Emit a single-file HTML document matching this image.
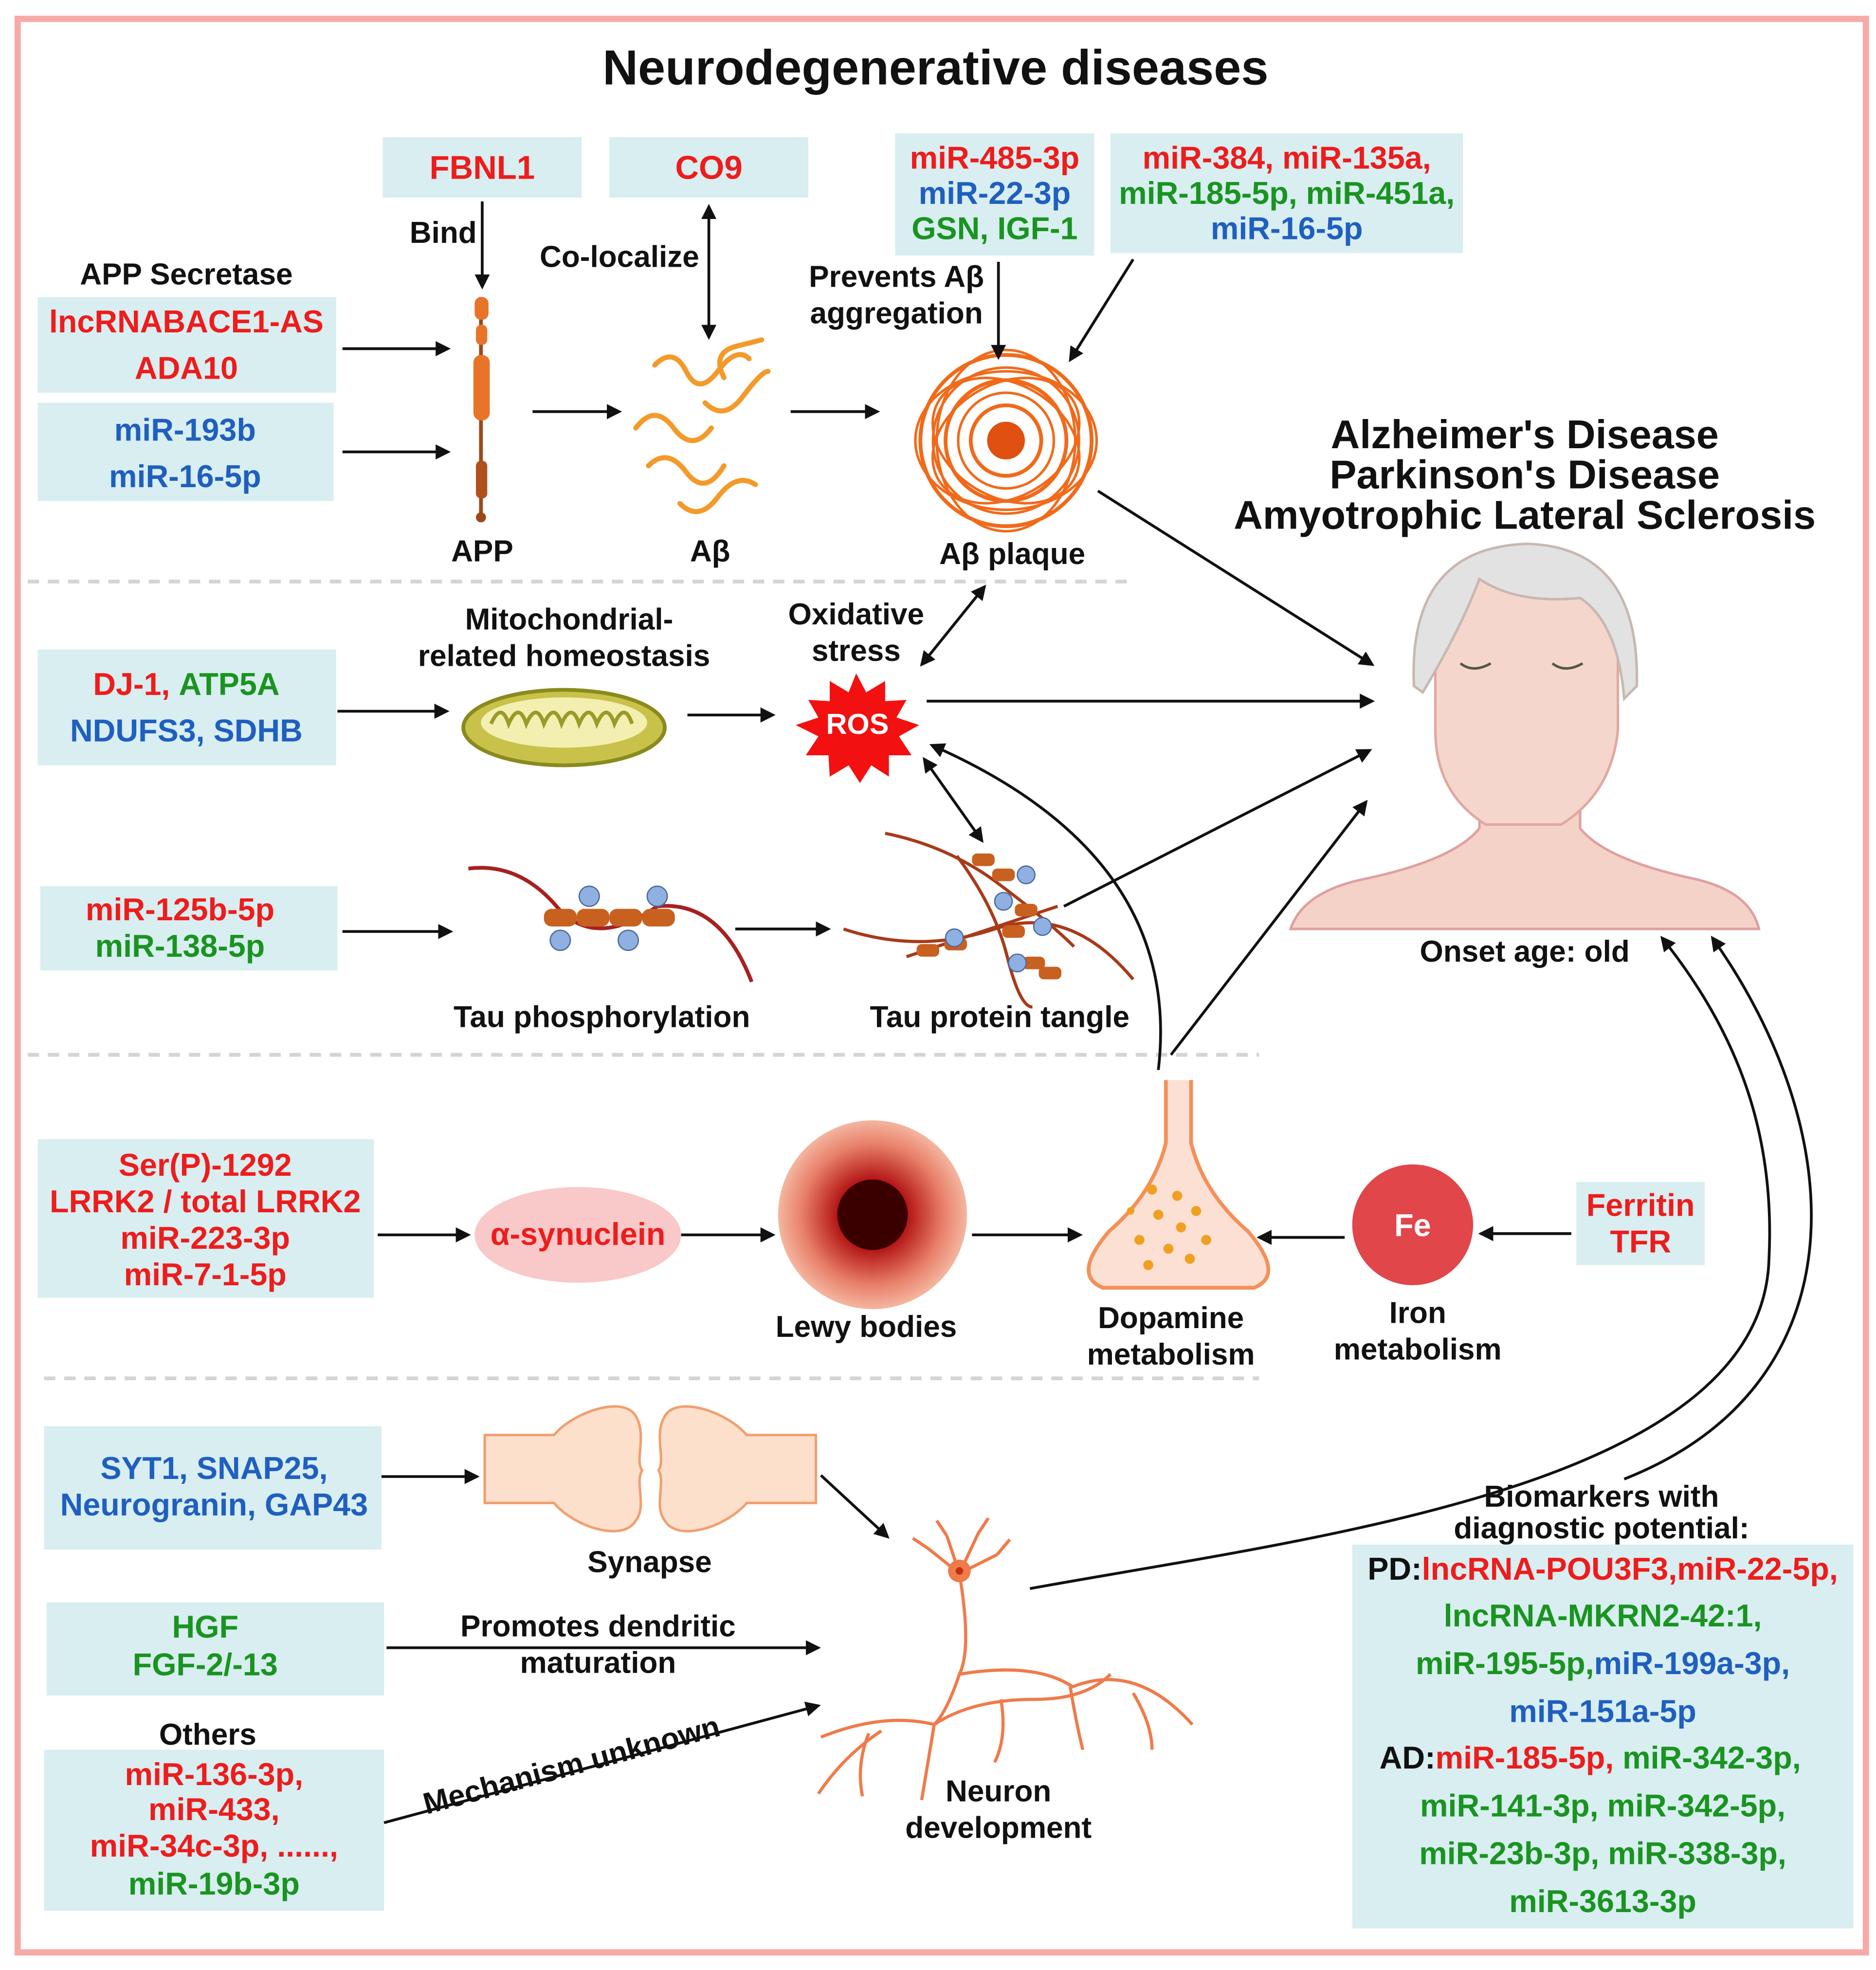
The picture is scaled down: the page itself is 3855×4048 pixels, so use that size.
<!DOCTYPE html>
<html><head><meta charset="utf-8"><style>
html,body{margin:0;padding:0;background:#fff}
svg{display:block}
text{font-family:"Liberation Sans",Arial,sans-serif;font-weight:bold}
.r{fill:#ee1c1c}.b{fill:#1f5fbf}.g{fill:#1a9420}.k{fill:#111}
.bx{fill:#d8eef1}
.ar{stroke:#111;stroke-width:2.2;fill:none;marker-end:url(#ah)}
.ab{stroke:#111;stroke-width:2.2;fill:none;marker-end:url(#ah);marker-start:url(#as)}
.ds{stroke:#d4d4d4;stroke-width:3;stroke-dasharray:9 7}
</style></head><body>
<svg width="3855" height="4048" viewBox="0 0 1490 1565" preserveAspectRatio="none" xmlns="http://www.w3.org/2000/svg">
<defs>
<marker id="ah" markerWidth="12" markerHeight="12" refX="10" refY="6" orient="auto" markerUnits="userSpaceOnUse" viewBox="0 0 12 12"><path d="M0,0 L12,6 L0,12 z" fill="#111"/></marker>
<marker id="as" markerWidth="12" markerHeight="12" refX="2" refY="6" orient="auto" markerUnits="userSpaceOnUse" viewBox="0 0 12 12"><path d="M12,0 L0,6 L12,12 z" fill="#111"/></marker>
<radialGradient id="lw"><stop offset="0" stop-color="#4a0000"/><stop offset="0.35" stop-color="#b01010"/><stop offset="0.75" stop-color="#e8806a"/><stop offset="1" stop-color="#f4b6a0"/></radialGradient>
</defs>
<rect x="14" y="15" width="1468" height="1536" fill="#fff" stroke="#f6aaa8" stroke-width="5"/>
<text x="743" y="67" font-size="39" text-anchor="middle" class="k">Neurodegenerative diseases</text>

<rect class="bx" x="304" y="109" width="158" height="48"/>
<text x="383" y="142" font-size="26" text-anchor="middle" class="r">FBNL1</text>
<rect class="bx" x="484" y="109" width="158" height="48"/>
<text x="563" y="142" font-size="26" text-anchor="middle" class="r">CO9</text>
<rect class="bx" x="711" y="106" width="158" height="97"/>
<text x="790" y="134" font-size="25" text-anchor="middle" class="r">miR-485-3p</text>
<text x="790" y="162" font-size="25" text-anchor="middle" class="b">miR-22-3p</text>
<text x="790" y="190" font-size="25" text-anchor="middle" class="g">GSN, IGF-1</text>
<rect class="bx" x="882" y="106" width="280" height="95"/>
<text x="1022" y="134" font-size="25" text-anchor="middle" class="r">miR-384, miR-135a,</text>
<text x="1022" y="162" font-size="25" text-anchor="middle" class="g">miR-185-5p, miR-451a,</text>
<text x="1022" y="190" font-size="25" text-anchor="middle" class="b">miR-16-5p</text>

<text x="148" y="226" font-size="24" text-anchor="middle" class="k">APP Secretase</text>
<rect class="bx" x="30" y="236" width="237" height="76"/>
<text x="148" y="264" font-size="25" text-anchor="middle" class="r">lncRNABACE1-AS</text>
<text x="148" y="301" font-size="25" text-anchor="middle" class="r">ADA10</text>
<rect class="bx" x="30" y="320" width="235" height="78"/>
<text x="147" y="350" font-size="25" text-anchor="middle" class="b">miR-193b</text>
<text x="147" y="387" font-size="25" text-anchor="middle" class="b">miR-16-5p</text>

<rect class="bx" x="30" y="516" width="237" height="92"/>
<text x="148" y="552" font-size="25" text-anchor="middle"><tspan class="r">DJ-1, </tspan><tspan class="g">ATP5A</tspan></text>
<text x="148" y="589" font-size="25" text-anchor="middle" class="b">NDUFS3, SDHB</text>

<rect class="bx" x="32" y="704" width="236" height="67"/>
<text x="143" y="731" font-size="25" text-anchor="middle" class="r">miR-125b-5p</text>
<text x="143" y="760" font-size="25" text-anchor="middle" class="g">miR-138-5p</text>

<rect class="bx" x="30" y="905" width="267" height="126"/>
<text x="163" y="934" font-size="25" text-anchor="middle" class="r">Ser(P)-1292</text>
<text x="163" y="963" font-size="25" text-anchor="middle" class="r">LRRK2 / total LRRK2</text>
<text x="163" y="992" font-size="25" text-anchor="middle" class="r">miR-223-3p</text>
<text x="163" y="1021" font-size="25" text-anchor="middle" class="r">miR-7-1-5p</text>

<rect class="bx" x="35" y="1133" width="268" height="98"/>
<text x="170" y="1175" font-size="25" text-anchor="middle" class="b">SYT1, SNAP25,</text>
<text x="170" y="1204" font-size="25" text-anchor="middle" class="b">Neurogranin,  GAP43</text>

<rect class="bx" x="37" y="1273" width="268" height="74"/>
<text x="163" y="1301" font-size="25" text-anchor="middle" class="g">HGF</text>
<text x="163" y="1331" font-size="25" text-anchor="middle" class="g">FGF-2/-13</text>

<text x="165" y="1386" font-size="24" text-anchor="middle" class="k">Others</text>
<rect class="bx" x="35" y="1390" width="270" height="128"/>
<text x="170" y="1418" font-size="25" text-anchor="middle" class="r">miR-136-3p,</text>
<text x="170" y="1446" font-size="25" text-anchor="middle" class="r">miR-433,</text>
<text x="170" y="1475" font-size="25" text-anchor="middle" class="r">miR-34c-3p,  ......,</text>
<text x="170" y="1505" font-size="25" text-anchor="middle" class="g">miR-19b-3p</text>

<rect class="bx" x="1252" y="939" width="102" height="66"/>
<text x="1303" y="966" font-size="25" text-anchor="middle" class="r">Ferritin</text>
<text x="1303" y="995" font-size="25" text-anchor="middle" class="r">TFR</text>

<text x="1272" y="1197" font-size="24" text-anchor="middle" class="k">Biomarkers with</text>
<text x="1272" y="1222" font-size="24" text-anchor="middle" class="k">diagnostic potential:</text>
<rect class="bx" x="1074" y="1227" width="398" height="305"/>
<text x="1273" y="1255" font-size="25" text-anchor="middle"><tspan class="k">PD:</tspan><tspan class="r">lncRNA-POU3F3,miR-22-5p,</tspan></text>
<text x="1273" y="1292" font-size="25" text-anchor="middle" class="g">lncRNA-MKRN2-42:1,</text>
<text x="1273" y="1330" font-size="25" text-anchor="middle"><tspan class="g">miR-195-5p,</tspan><tspan class="b">miR-199a-3p,</tspan></text>
<text x="1273" y="1368" font-size="25" text-anchor="middle" class="b">miR-151a-5p</text>
<text x="1263" y="1405" font-size="25" text-anchor="middle"><tspan class="k">AD:</tspan><tspan class="r">miR-185-5p, </tspan><tspan class="g">miR-342-3p,</tspan></text>
<text x="1273" y="1443" font-size="25" text-anchor="middle" class="g">miR-141-3p, miR-342-5p,</text>
<text x="1273" y="1481" font-size="25" text-anchor="middle" class="g">miR-23b-3p, miR-338-3p,</text>
<text x="1273" y="1519" font-size="25" text-anchor="middle" class="g">miR-3613-3p</text>

<line class="ds" x1="22" y1="462" x2="900" y2="462"/>
<line class="ds" x1="22" y1="838" x2="1000" y2="838"/>
<line class="ds" x1="35" y1="1095" x2="1000" y2="1095"/>

<text x="352" y="193" font-size="24" text-anchor="middle" class="k">Bind</text>
<text x="492" y="212" font-size="24" text-anchor="middle" class="k">Co-localize</text>
<text x="712" y="228" font-size="24" text-anchor="middle" class="k">Prevents Aβ</text>
<text x="712" y="257" font-size="24" text-anchor="middle" class="k">aggregation</text>
<text x="383" y="446" font-size="24" text-anchor="middle" class="k">APP</text>
<text x="564" y="446" font-size="24" text-anchor="middle" class="k">Aβ</text>
<text x="804" y="448" font-size="24" text-anchor="middle" class="k">Aβ plaque</text>
<text x="1211" y="356" font-size="32" text-anchor="middle" class="k">Alzheimer's Disease</text>
<text x="1211" y="388" font-size="32" text-anchor="middle" class="k">Parkinson's Disease</text>
<text x="1211" y="420" font-size="32" text-anchor="middle" class="k">Amyotrophic Lateral Sclerosis</text>
<text x="452" y="500" font-size="24" text-anchor="middle" class="k">Mitochondrial-</text>
<text x="448" y="529" font-size="24" text-anchor="middle" class="k">related homeostasis</text>
<text x="680" y="496" font-size="24" text-anchor="middle" class="k">Oxidative</text>
<text x="680" y="525" font-size="24" text-anchor="middle" class="k">stress</text>
<text x="478" y="816" font-size="24" text-anchor="middle" class="k">Tau phosphorylation</text>
<text x="794" y="816" font-size="24" text-anchor="middle" class="k">Tau protein tangle</text>
<text x="1211" y="764" font-size="24" text-anchor="middle" class="k">Onset age: old</text>
<text x="688" y="1062" font-size="24" text-anchor="middle" class="k">Lewy bodies</text>
<text x="930" y="1055" font-size="24" text-anchor="middle" class="k">Dopamine</text>
<text x="930" y="1084" font-size="24" text-anchor="middle" class="k">metabolism</text>
<text x="1126" y="1051" font-size="24" text-anchor="middle" class="k">Iron</text>
<text x="1126" y="1080" font-size="24" text-anchor="middle" class="k">metabolism</text>
<text x="516" y="1249" font-size="24" text-anchor="middle" class="k">Synapse</text>
<text x="475" y="1300" font-size="24" text-anchor="middle" class="k">Promotes dendritic</text>
<text x="475" y="1329" font-size="24" text-anchor="middle" class="k">maturation</text>
<text x="456" y="1410" font-size="24" text-anchor="middle" class="k" transform="rotate(-15 456 1410)">Mechanism unknown</text>
<text x="793" y="1431" font-size="24" text-anchor="middle" class="k">Neuron</text>
<text x="793" y="1460" font-size="24" text-anchor="middle" class="k">development</text>

<!-- APP -->
<line x1="382" y1="236" x2="382" y2="412" stroke="#9a4a1a" stroke-width="3"/>
<rect x="377" y="236" width="11" height="18" rx="5" fill="#e8742a"/>
<rect x="378" y="258" width="9" height="16" rx="4" fill="#e8742a"/>
<rect x="376" y="282" width="13" height="52" rx="6" fill="#e8742a"/>
<rect x="378" y="366" width="9" height="30" rx="4" fill="#b0501e"/>
<circle cx="382" cy="411" r="4" fill="#9a4a1a"/>

<g stroke="#f39a2a" stroke-width="4" fill="none" stroke-linecap="round">
<path d="M520,290 q15,-15 25,5 t25,0 t25,-10"/>
<path d="M505,340 q15,-20 30,0 t30,0"/>
<path d="M560,320 q15,15 30,-5 t20,-20"/>
<path d="M515,370 q15,-15 30,5 t30,-5"/>
<path d="M540,400 q15,15 30,-5 t30,-10"/>
<path d="M575,300 q-10,-20 10,-25 t20,-5"/>
</g>

<g fill="none" stroke="#f06a1a" stroke-width="2">
<circle cx="799" cy="350" r="68" stroke-width="3"/>
<circle cx="799" cy="350" r="58"/>
<circle cx="799" cy="350" r="48" stroke-width="3"/>
<circle cx="799" cy="350" r="38"/>
<circle cx="799" cy="350" r="28" stroke-width="3"/>
<ellipse cx="799" cy="350" rx="72" ry="55"/>
<ellipse cx="799" cy="350" rx="55" ry="72"/>
<ellipse cx="799" cy="350" rx="62" ry="45" transform="rotate(30 799 350)"/>
<ellipse cx="799" cy="350" rx="62" ry="45" transform="rotate(-30 799 350)"/>
</g>
<circle cx="799" cy="350" r="15" fill="#e05010"/>

<ellipse cx="448" cy="578" rx="80" ry="30" fill="#c9c24a" stroke="#8a8a1e" stroke-width="3"/>
<ellipse cx="448" cy="574" rx="66" ry="20" fill="#f3efb0"/>
<path d="M390,575 q8,-18 14,0 q8,-18 14,0 q8,-18 14,0 q8,-18 14,0 q8,-18 14,0 q8,-18 14,0 q8,-18 14,0 q8,-18 14,0" stroke="#9a9a2a" stroke-width="3" fill="none"/>

<polygon points="680,535 688,550 703,541 703,557 720,556 712,570 730,576 714,585 724,600 706,600 706,617 692,608 683,622 674,608 659,617 658,600 640,600 650,585 632,576 650,570 642,556 659,557 659,541 674,550" fill="#f21010"/>
<text x="681" y="583" font-size="23" text-anchor="middle" fill="#fff">ROS</text>

<path d="M372,690 q40,-5 70,30 t80,0 q50,-5 75,60" stroke="#a82020" stroke-width="3" fill="none"/>
<g fill="#c86020"><rect x="432" y="722" width="26" height="14" rx="6"/><rect x="458" y="722" width="26" height="14" rx="6"/><rect x="484" y="722" width="26" height="14" rx="6"/><rect x="510" y="722" width="26" height="14" rx="6"/></g>
<g fill="#8fb0e0" stroke="#4a6aa0"><circle cx="468" cy="712" r="8"/><circle cx="522" cy="712" r="8"/><circle cx="445" cy="747" r="8"/><circle cx="499" cy="747" r="8"/></g>

<g stroke="#a83a1a" stroke-width="2.5" fill="none">
<path d="M703,662 q50,10 90,40 t60,50"/>
<path d="M670,738 q60,20 120,0 t110,40"/>
<path d="M760,680 q30,40 40,80 t20,40"/>
<path d="M720,760 q60,-20 120,-40"/>
</g>
<g fill="#c86020">
<rect x="772" y="678" width="18" height="10" rx="4"/><rect x="788" y="690" width="18" height="10" rx="4"/>
<rect x="728" y="750" width="18" height="10" rx="4"/><rect x="750" y="745" width="18" height="10" rx="4"/>
<rect x="796" y="735" width="18" height="10" rx="4"/><rect x="806" y="718" width="18" height="10" rx="4"/>
<rect x="812" y="760" width="18" height="10" rx="4"/><rect x="825" y="768" width="18" height="10" rx="4"/>
</g>
<g fill="#8fb0e0" stroke="#4a6aa0"><circle cx="815" cy="695" r="7"/><circle cx="797" cy="716" r="7"/><circle cx="758" cy="745" r="7"/><circle cx="828" cy="736" r="7"/><circle cx="808" cy="765" r="7"/></g>

<!-- head -->
<path d="M1025,738 q10,-30 60,-40 q70,-15 90,-40 l0,-60 l80,0 l0,60 q20,25 90,40 q45,10 52,40 z" fill="#f4d2c8" stroke="#e0a0a0" stroke-width="2"/>
<path d="M1140,520 q0,-80 70,-80 q75,0 75,80 l0,60 q-5,50 -45,75 l-60,0 q-40,-25 -40,-75 z" fill="#f5d6cc" stroke="#e0a8a0" stroke-width="2"/>
<path d="M1123,545 q-5,-110 90,-113 q90,3 87,113 l-10,10 q-5,-60 -35,-80 q-50,5 -80,-15 q-15,40 -45,90 z" fill="#e2e2e2" stroke="#c8b8b0" stroke-width="2"/>
<path d="M1160,527 q10,8 24,0 M1233,527 q10,8 24,0" stroke="#554" stroke-width="2" fill="none"/>

<circle cx="693" cy="965" r="75" fill="url(#lw)"/>
<circle cx="693" cy="965" r="28" fill="#3a0000"/>

<ellipse cx="459" cy="981" rx="82" ry="38" fill="#f9c8c8"/>
<text x="459" y="989" font-size="25" text-anchor="middle" class="r">α-synuclein</text>

<path d="M926,858 l0,50 q-10,40 -45,70 q-30,35 -5,45 l120,0 q25,-10 -5,-45 q-35,-30 -45,-70 l0,-50" fill="#fde0d4" stroke="#f4905a" stroke-width="3"/>
<g fill="#f0a020"><circle cx="915" cy="945" r="4"/><circle cx="935" cy="950" r="4"/><circle cx="950" cy="962" r="4"/><circle cx="920" cy="965" r="4"/><circle cx="938" cy="975" r="4"/><circle cx="905" cy="985" r="4"/><circle cx="958" cy="985" r="4"/><circle cx="928" cy="992" r="4"/><circle cx="945" cy="1000" r="4"/><circle cx="912" cy="1005" r="4"/><circle cx="898" cy="962" r="3"/></g>

<circle cx="1122" cy="973" r="48" fill="#e0464a"/>
<text x="1122" y="982" font-size="25" text-anchor="middle" fill="#fff">Fe</text>

<!-- synapse -->
<path d="M385,1140 L440,1140 C455,1122 495,1108 505,1125 C514,1140 504,1160 510,1168 C504,1178 514,1196 505,1208 C494,1226 455,1212 440,1194 L385,1194 Z" fill="#fde0cc" stroke="#f0a070" stroke-width="2"/>
<path d="M648,1140 L593,1140 C578,1122 538,1108 528,1125 C519,1140 529,1160 523,1168 C529,1178 519,1196 528,1208 C539,1226 578,1212 593,1194 L648,1194 Z" fill="#fde0cc" stroke="#f0a070" stroke-width="2"/>

<g stroke="#f07a4a" stroke-width="2.5" fill="none">
<path d="M762,1250 q10,60 0,80 q-10,30 -20,40 M742,1370 q-40,-10 -90,10 M742,1370 q-5,30 -10,60 M742,1370 q30,-20 80,-20 q40,0 60,-20 M762,1330 q60,-10 90,10 q50,-20 95,30 M850,1340 q5,30 10,50 M700,1375 q-30,20 -50,50 M690,1377 q-10,25 -5,50 M795,1350 q5,30 -5,50 M900,1345 q15,25 15,45"/>
<path d="M762,1250 l-25,-20 M762,1250 l30,-15 M762,1250 l-10,-30 M762,1250 l15,-32 M737,1230 l-12,-8 M792,1235 l10,-12 M752,1220 l-8,-12 M777,1218 l8,-12"/>
</g>
<circle cx="762" cy="1248" r="9" fill="#f07a4a"/><circle cx="762" cy="1248" r="3" fill="#c03010"/>

<line class="ar" x1="383" y1="160" x2="383" y2="228"/>
<line class="ab" x1="563" y1="164" x2="563" y2="268"/>
<line class="ar" x1="793" y1="208" x2="793" y2="284"/>
<line class="ar" x1="900" y1="206" x2="850" y2="286"/>
<line class="ar" x1="272" y1="277" x2="356" y2="277"/>
<line class="ar" x1="272" y1="359" x2="356" y2="359"/>
<line class="ar" x1="423" y1="327" x2="492" y2="327"/>
<line class="ar" x1="628" y1="327" x2="697" y2="327"/>
<line class="ar" x1="872" y1="390" x2="1090" y2="528"/>
<line class="ab" x1="732" y1="528" x2="782" y2="466"/>
<line class="ar" x1="268" y1="565" x2="355" y2="565"/>
<line class="ar" x1="546" y1="568" x2="614" y2="568"/>
<line class="ar" x1="736" y1="557" x2="1090" y2="557"/>
<line class="ab" x1="734" y1="603" x2="780" y2="668"/>
<line class="ar" x1="845" y1="720" x2="1088" y2="596"/>
<line class="ar" x1="930" y1="838" x2="1085" y2="637"/>
<path class="ar" d="M920,850 q20,-170 -180,-258"/>
<line class="ar" x1="272" y1="740" x2="358" y2="740"/>
<line class="ar" x1="584" y1="738" x2="658" y2="738"/>
<line class="ar" x1="300" y1="981" x2="372" y2="981"/>
<line class="ar" x1="541" y1="981" x2="614" y2="981"/>
<line class="ar" x1="772" y1="981" x2="858" y2="981"/>
<line class="ar" x1="1068" y1="983" x2="1000" y2="983"/>
<line class="ar" x1="1248" y1="980" x2="1176" y2="980"/>
<line class="ar" x1="303" y1="1173" x2="379" y2="1173"/>
<line class="ar" x1="652" y1="1172" x2="705" y2="1221"/>
<line class="ar" x1="307" y1="1309" x2="650" y2="1309"/>
<line class="ar" x1="305" y1="1448" x2="650" y2="1355"/>
<path class="ar" d="M818,1262 C1050,1220 1400,1180 1405,1000 C1410,900 1380,820 1320,745"/>
<path class="ar" d="M1290,1175 C1480,1100 1470,900 1360,745"/>
</svg>
</body></html>
